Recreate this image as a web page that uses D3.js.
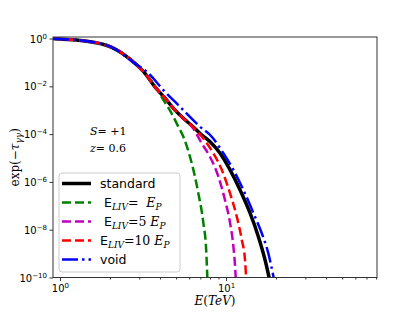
<!DOCTYPE html>
<html>
<head>
<script src="https://d3js.org/d3.v7.min.js"></script>
<style>
  body { margin: 0; background: #ffffff; }
  text { font-family: 'DejaVu Sans', sans-serif; }
  .serif { font-family: 'DejaVu Serif', serif; }
  .it { font-style: italic; }
</style>
</head>
<body>
<div id="chart"></div>
<script>
  // energies (TeV) and attenuation exp(-tau)
  var E_standard = [0.91, 1.0, 1.38, 2.05, 2.83, 3.25, 3.73, 4.29, 4.82, 5.53, 6.35, 6.97, 8.01, 9.2, 10.57, 12.14, 13.95, 15.65, 17.17, 18.16];
  var v_standard = [1, 0.955, 0.81, 0.43, 0.091, 0.035, 9.5e-3, 3.2e-3, 1.2e-3, 4.6e-4, 2.0e-4, 1.07e-4, 4.8e-5, 1.6e-5, 3.2e-6, 4.6e-7, 4.9e-8, 5.1e-9, 5.4e-10, 1e-10];

  var E_liv1 = [0.91, 1.0, 1.38, 2.05, 2.83, 3.25, 3.65, 4.19, 4.70, 5.16, 5.53, 6.07, 6.81, 7.30, 7.59, 7.71];
  var v_liv1 = [1, 0.955, 0.81, 0.43, 0.091, 0.035, 0.0133, 2.7e-3, 7.4e-4, 2.04e-4, 7.8e-5, 1.1e-5, 3.3e-7, 1.9e-8, 1.4e-9, 1e-10];

  var E_liv5 = [0.91, 1.0, 1.38, 2.05, 2.83, 3.25, 3.73, 4.29, 4.82, 5.53, 6.35, 7.14, 8.01, 8.99, 9.86, 10.57, 11.07, 11.33, 11.43];
  var v_liv5 = [1, 0.955, 0.81, 0.43, 0.091, 0.035, 9.5e-3, 3.2e-3, 1.2e-3, 4.6e-4, 1.7e-4, 4.1e-5, 1.1e-5, 1.65e-6, 1.7e-7, 1.9e-8, 1.95e-9, 2.8e-10, 1e-10];

  var E_liv10 = [0.91, 1.0, 1.38, 2.05, 2.83, 3.25, 3.73, 4.29, 4.82, 5.53, 6.35, 7.30, 8.38, 9.42, 10.57, 11.6, 12.44, 13.0, 13.2];
  var v_liv10 = [1, 0.955, 0.81, 0.43, 0.091, 0.035, 9.5e-3, 3.2e-3, 1.2e-3, 4.6e-4, 1.95e-4, 6.6e-5, 1.58e-5, 3.2e-6, 3.3e-7, 3.5e-8, 3.7e-9, 5.4e-10, 1e-10];

  var E_void = [0.91, 1.0, 1.38, 2.05, 2.83, 3.33, 4.19, 5.28, 6.97, 8.20, 9.63, 11.07, 12.71, 14.62, 16.4, 17.98, 19.1, 19.33];
  var v_void = [1, 0.955, 0.81, 0.43, 0.091, 0.041, 7.0e-3, 1.4e-3, 2.04e-4, 7.8e-5, 1.58e-5, 3.2e-6, 4.6e-7, 4.9e-8, 7.1e-9, 1.0e-9, 1.5e-10, 1e-10];

  var xMajor = [1, 10];
  var xMinor = [2, 3, 4, 5, 6, 7, 8, 9, 20, 30, 40, 50, 60, 70, 80];
  var yMajor = [1, 1e-2, 1e-4, 1e-6, 1e-8, 1e-10];
  var yMajorExp = ["0", "-2", "-4", "-6", "-8", "-10"];

  var series = [
    { E: E_standard, v: v_standard, color: "#000000", width: 3.5, dash: null, label: [{ t: "standard" }] },
    { E: E_liv1, v: v_liv1, color: "#008000", width: 2.5, dash: "9,4",
      label: [{ t: " E" }, { t: "LIV", it: 1, sub: 1 }, { t: "=  ", serif: 1 }, { t: "E", it: 1 }, { t: "P", it: 1, sub: 1 }] },
    { E: E_liv5, v: v_liv5, color: "#bf00bf", width: 2.5, dash: "9,4",
      label: [{ t: " E" }, { t: "LIV", it: 1, sub: 1 }, { t: "=5 ", serif: 1 }, { t: "E", it: 1 }, { t: "P", it: 1, sub: 1 }] },
    { E: E_liv10, v: v_liv10, color: "#ff0000", width: 2.5, dash: "9,4",
      label: [{ t: "E" }, { t: "LIV", it: 1, sub: 1 }, { t: "=10 ", serif: 1 }, { t: "E", it: 1 }, { t: "P", it: 1, sub: 1 }] },
    { E: E_void, v: v_void, color: "#0000ff", width: 2.5, dash: "16,4,2.5,4", label: [{ t: "void" }] }
  ];

  var W = 419, H = 313;
  var pLeft = 53, pRight = 377, pTop = 37, pBottom = 277.5;

  var x = d3.scaleLog().domain([0.908, 81]).range([pLeft, pRight]);
  var y = d3.scaleLog().domain([1e-10, 1.16]).range([pBottom, pTop]);

  var svg = d3.select("#chart").append("svg")
    .attr("width", W)
    .attr("height", H);

  svg.append("defs").append("clipPath").attr("id", "clip")
    .append("rect")
    .attr("x", pLeft).attr("y", pTop)
    .attr("width", pRight - pLeft).attr("height", pBottom - pTop);

  // curves
  var line = d3.line()
    .x(function (d) { return x(d[0]); })
    .y(function (d) { return y(d[1]); })
    .curve(d3.curveMonotoneX);

  var curveG = svg.append("g").attr("clip-path", "url(#clip)");
  series.forEach(function (s) {
    var pts = s.E.map(function (e, i) { return [e, s.v[i]]; });
    curveG.append("path")
      .attr("d", line(pts))
      .attr("fill", "none")
      .attr("stroke", s.color)
      .attr("stroke-width", s.width)
      .attr("stroke-dasharray", s.dash);
  });

  // frame
  svg.append("rect")
    .attr("x", pLeft).attr("y", pTop)
    .attr("width", pRight - pLeft).attr("height", pBottom - pTop)
    .attr("fill", "none")
    .attr("stroke", "#333")
    .attr("stroke-width", 1);

  // x axis
  var xAx = svg.append("g")
    .attr("transform", "translate(0," + pBottom + ")")
    .call(d3.axisBottom(x).tickValues(xMajor).tickSize(3.5).tickSizeOuter(0).tickFormat(""));
  xAx.select(".domain").remove();
  xAx.selectAll(".tick").each(function (d) {
    var t = d3.select(this).append("text")
      .attr("y", 14)
      .attr("fill", "#000")
      .attr("font-size", 10)
      .attr("text-anchor", "middle");
    t.append("tspan").text("10");
    t.append("tspan").attr("dy", -4).attr("font-size", 7).text(d === 1 ? "0" : "1");
  });
  var xMin = svg.append("g")
    .attr("transform", "translate(0," + pBottom + ")")
    .call(d3.axisBottom(x).tickValues(xMinor).tickSize(2).tickSizeOuter(0).tickFormat(""));
  xMin.select(".domain").remove();

  // y axis
  var yAx = svg.append("g")
    .attr("transform", "translate(" + pLeft + ",0)")
    .call(d3.axisLeft(y).tickValues(yMajor).tickSize(3.5).tickSizeOuter(0).tickFormat(""));
  yAx.select(".domain").remove();
  yAx.selectAll(".tick").each(function (d, i) {
    var t = d3.select(this).append("text")
      .attr("x", -6)
      .attr("dy", "0.35em")
      .attr("fill", "#000")
      .attr("font-size", 10)
      .attr("text-anchor", "end");
    t.append("tspan").text("10");
    t.append("tspan").attr("dy", -4).attr("font-size", 7).text(yMajorExp[i].replace("-", "\u2212"));
  });
  svg.selectAll(".tick line").attr("stroke", "#333");

  // axis labels
  var xl = svg.append("text")
    .attr("class", "serif")
    .attr("x", (pLeft + pRight) / 2)
    .attr("y", 305)
    .attr("font-size", 12)
    .attr("text-anchor", "middle");
  xl.append("tspan").attr("class", "it").text("E");
  xl.append("tspan").text("(");
  xl.append("tspan").attr("class", "it").text("TeV");
  xl.append("tspan").text(")");

  var yl = svg.append("text")
    .attr("class", "serif")
    .attr("transform", "translate(19," + ((pTop + pBottom) / 2) + ") rotate(-90)")
    .attr("font-size", 12)
    .attr("text-anchor", "middle");
  yl.append("tspan").text("exp(\u2212");
  yl.append("tspan").attr("class", "it").text("\u03c4");
  yl.append("tspan").attr("class", "it").attr("dy", 3).attr("font-size", 9).text("\u03b3\u03b3");
  yl.append("tspan").attr("dy", -3).text(")");

  // annotations
  var a1 = svg.append("text").attr("class", "serif").attr("x", 90).attr("y", 135).attr("font-size", 11);
  a1.append("tspan").attr("class", "it").text("S");
  a1.append("tspan").text("= +1");
  var a2 = svg.append("text").attr("class", "serif").attr("x", 90).attr("y", 152).attr("font-size", 11);
  a2.append("tspan").attr("class", "it").text("z");
  a2.append("tspan").text("= 0.6");

  // legend
  var lg = svg.append("g");
  lg.append("rect")
    .attr("x", 59).attr("y", 173)
    .attr("width", 121).attr("height", 99)
    .attr("rx", 3)
    .attr("fill", "#fff")
    .attr("fill-opacity", 0.8)
    .attr("stroke", "#cccccc")
    .attr("stroke-width", 1);

  series.forEach(function (s, i) {
    var yy = 183.5 + i * 19;
    lg.append("line")
      .attr("x1", 62).attr("x2", 91)
      .attr("y1", yy).attr("y2", yy)
      .attr("stroke", s.color)
      .attr("stroke-width", s.width)
      .attr("stroke-dasharray", s.dash);
    var t = lg.append("text")
      .attr("x", 100)
      .attr("y", yy + 4.5)
      .attr("font-size", 12.5)
      .attr("fill", "#000")
      .attr("xml:space", "preserve");
    var shift = 0;
    s.label.forEach(function (p) {
      var ts = t.append("tspan").text(p.t);
      if (p.it || p.serif) ts.attr("class", "serif" + (p.it ? " it" : ""));
      if (p.sub) {
        ts.attr("dy", 3 - shift).attr("font-size", 9);
        shift = 3;
      } else if (shift) {
        ts.attr("dy", -shift);
        shift = 0;
      }
    });
  });
</script>
</body>
</html>
